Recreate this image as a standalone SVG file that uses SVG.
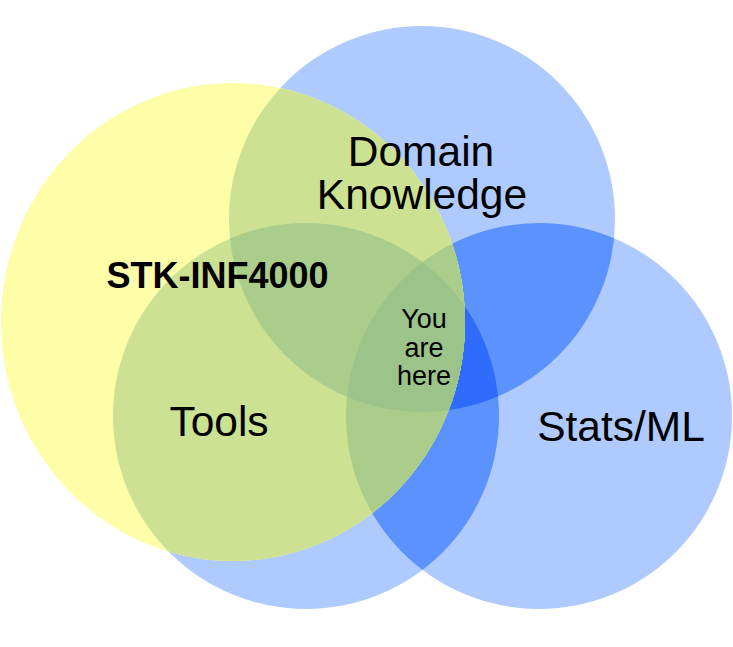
<svg xmlns="http://www.w3.org/2000/svg" width="733" height="647" viewBox="0 0 733 647">
  <style>
    .lb { fill: #aecafe; }
    .mb { fill: #5c92fd; }
    .db { fill: #2f6bfc; }
    .y0 { fill: #fefea9; }
    .g1 { fill: #cde193; }
    .g2 { fill: #aacd8c; }
    .g3 { fill: #9cc48a; }
    .t { font-family: "Liberation Sans", Arial, Helvetica, sans-serif; fill: #000; text-anchor: middle; }
  </style>
  <defs>
    <circle id="T" cx="422" cy="219" r="193"/>
    <circle id="L" cx="306" cy="416" r="193"/>
    <circle id="R" cx="539" cy="416" r="193"/>
    <ellipse id="Y" cx="233" cy="322" rx="232" ry="239"/>
    <clipPath id="cT"><use href="#T"/></clipPath>
    <clipPath id="cL"><use href="#L"/></clipPath>
    <clipPath id="cR"><use href="#R"/></clipPath>
    <clipPath id="cY"><use href="#Y"/></clipPath>
  </defs>
  <rect width="733" height="647" fill="#fff"/>
  <g id="venn">
    <g id="blue-single" class="lb">
      <use href="#T"/><use href="#L"/><use href="#R"/>
    </g>
    <g id="blue-double" class="mb">
      <use href="#T" clip-path="url(#cL)"/>
      <use href="#T" clip-path="url(#cR)"/>
      <use href="#L" clip-path="url(#cR)"/>
    </g>
    <g id="blue-triple" class="db" clip-path="url(#cT)">
      <use href="#L" clip-path="url(#cR)"/>
    </g>
    <use id="yellow" href="#Y" class="y0"/>
    <g id="yellow-blue" clip-path="url(#cY)">
      <g class="g1"><use href="#T"/><use href="#L"/><use href="#R"/></g>
      <g class="g2">
        <use href="#T" clip-path="url(#cL)"/>
        <use href="#T" clip-path="url(#cR)"/>
        <use href="#L" clip-path="url(#cR)"/>
      </g>
      <g class="g3" clip-path="url(#cT)">
        <use href="#L" clip-path="url(#cR)"/>
      </g>
    </g>
  </g>
  <g id="node-domain">
    <text class="t" x="421" y="166" font-size="42.5">Domain</text>
    <text class="t" x="422" y="209" font-size="42.5">Knowledge</text>
  </g>
  <g id="node-stk">
    <text class="t" x="217.5" y="288" font-size="36" font-weight="bold">STK-INF4000</text>
  </g>
  <g id="node-here">
    <text class="t" x="424" y="328" font-size="27">You</text>
    <text class="t" x="424" y="357" font-size="27">are</text>
    <text class="t" x="424" y="385" font-size="27">here</text>
  </g>
  <g id="node-tools">
    <text class="t" x="219" y="436" font-size="42.5">Tools</text>
  </g>
  <g id="node-stats">
    <text class="t" x="621" y="441" font-size="42.5">Stats/ML</text>
  </g>
</svg>
